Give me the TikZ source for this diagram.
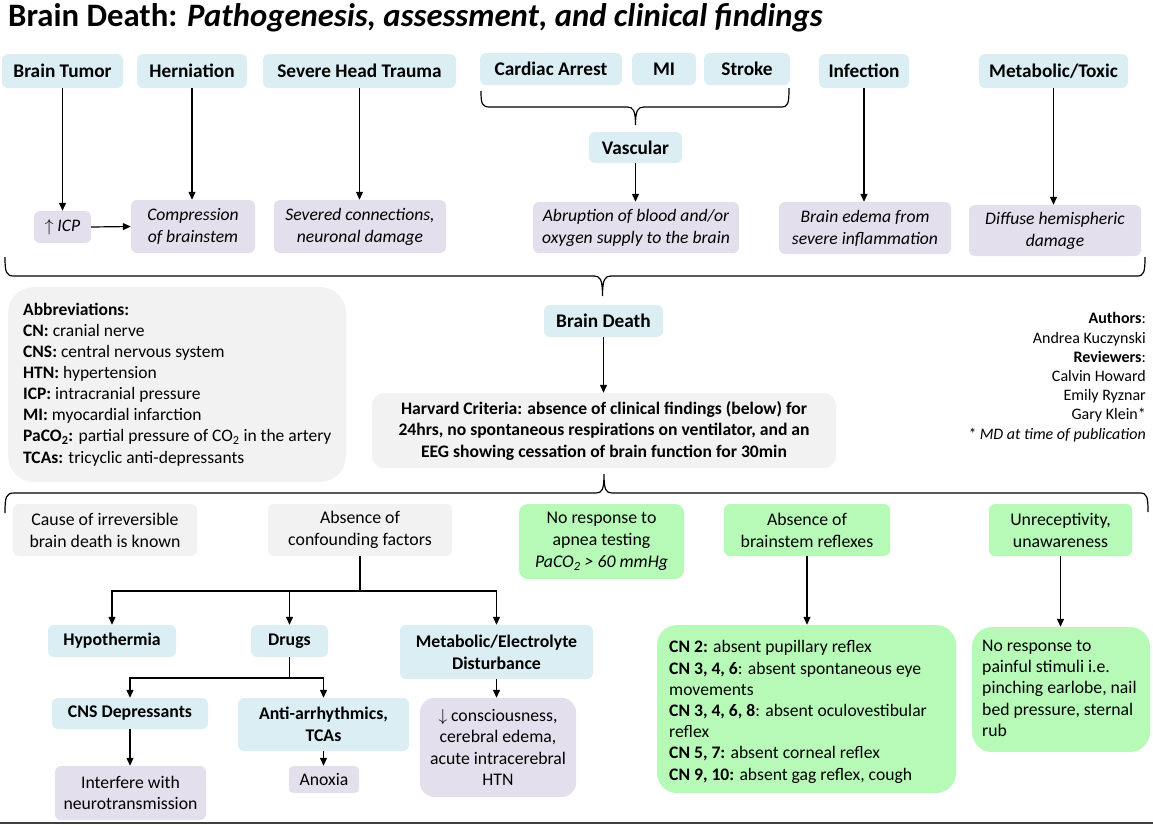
\documentclass[tikz,border=0pt]{standalone}
\usepackage{fontspec}
\setmainfont{Carlito}
\usetikzlibrary{arrows.meta}
\definecolor{bluef}{RGB}{218,238,243}
\definecolor{purf}{RGB}{228,223,236}
\definecolor{grayf}{RGB}{242,242,242}
\definecolor{greenf}{RGB}{183,250,183}
\tikzset{
  box/.style={rounded corners=6pt, inner sep=0pt, align=center, text=black},
  bluebox/.style={box, fill=bluef, font=\fontsize{19.3}{22}\selectfont\bfseries},
  blueboxs/.style={box, fill=bluef, font=\fontsize{17.8}{22}\selectfont\bfseries},
  purbox/.style={box, fill=purf, font=\fontsize{17.6}{22}\selectfont\itshape},
  purboxn/.style={box, fill=purf, font=\fontsize{17.7}{21.5}\selectfont},
  graybox/.style={box, fill=grayf, font=\fontsize{17.8}{22}\selectfont},
  greenbox/.style={box, fill=greenf, font=\fontsize{17.8}{22}\selectfont},
  arr/.style={line width=1.2pt, -{Triangle[width=7pt,length=8pt]}},
  ln/.style={line width=1.2pt},
  brace/.style={line width=1.2pt},
}
\begin{document}
\begin{tikzpicture}[x=1pt,y=-1pt]
\useasboundingbox (0,0) rectangle (1153,825);
% title
\node[anchor=west, inner sep=0pt, font=\fontsize{32.7}{36}\selectfont\bfseries] (title) at (8,18)
  {Brain Death: \textit{Pathogenesis, assessment, and clinical findings}};
% row 1
\node[bluebox, minimum width=121, minimum height=34] (bt) at (62.5,71) {Brain Tumor};
\node[bluebox, minimum width=110, minimum height=34] (hern) at (192,71) {Herniation};
\node[bluebox, minimum width=193, minimum height=34] (sht) at (359.5,71) {Severe Head Trauma};
\node[bluebox, minimum width=142, minimum height=32] (ca) at (551,69) {Cardiac Arrest};
\node[bluebox, minimum width=64, minimum height=32] (mi) at (664,69) {MI};
\node[bluebox, minimum width=86, minimum height=32] (stroke) at (747,69) {Stroke};
\node[bluebox, minimum width=90, minimum height=34] (inf) at (864,71) {Infection};
\node[bluebox, minimum width=149, minimum height=34] (mt) at (1053.5,71) {Metabolic/Toxic};
\node[bluebox, minimum width=93, minimum height=31] (vasc) at (635.5,147.5) {Vascular};
% row 2
\node[purbox, minimum width=57, minimum height=32] (icp) at (62.5,227) {$\uparrow$ ICP};
\node[purbox, minimum width=124, minimum height=53] (comp) at (193,226.5) {Compression\\of brainstem};
\node[purbox, minimum width=172, minimum height=53] (sev) at (360,226.5) {Severed connections,\\neuronal damage};
\node[purbox, minimum width=206, minimum height=51] (abr) at (636,227.5) {Abruption of blood and/or\\oxygen supply to the brain};
\node[purbox, minimum width=172, minimum height=52] (edema) at (865,228) {Brain edema from\\severe inflammation};
\node[purbox, minimum width=172, minimum height=51] (diff) at (1055,230.5) {Diffuse hemispheric\\damage};
% arrows top
\draw[arr] (bt.south) -- (icp.north);
\draw[arr] (hern.south) -- (hern.south |- comp.north);
\draw[arr] (sht.south) -- (sht.south |- sev.north);
\draw[arr] (icp.east) -- (comp.west);
\draw[arr] (vasc.south) -- (vasc.south |- abr.north);
\draw[arr] (inf.south) -- (inf.south |- edema.north);
\draw[arr] (mt.south) -- (mt.south |- diff.north);
% brace A
\draw[brace] (481,91) .. controls (481,104) and (482,107) .. (490,107) -- (627,107)
  .. controls (633,107) and (635.5,110) .. (635.5,125)
  .. controls (635.5,110) and (638,107) .. (644,107) -- (781,107)
  .. controls (788,107) and (789,104) .. (789,88);
% brace B
\draw[brace] (5,257) .. controls (5,272) and (6,276) .. (14,276) -- (594,276)
  .. controls (600,276) and (602.5,279) .. (602.5,296)
  .. controls (602.5,279) and (605,276) .. (611,276) -- (1137,276)
  .. controls (1144,276) and (1145,272) .. (1145,257);
% middle
\node[bluebox, minimum width=119, minimum height=32] (bd) at (603.5,321) {Brain Death};
\node[box, fill=grayf, rounded corners=12pt, minimum width=464, minimum height=75,
  font=\fontsize{17.6}{21.5}\selectfont\bfseries] (harv) at (604,430.5)
  {Harvard Criteria: absence of clinical findings (below) for\\24hrs, no spontaneous respirations on ventilator, and an\\EEG showing cessation of brain function for 30min};
\draw[arr] (bd.south) -- (bd.south |- harv.north);
% abbreviations
\node[box, fill=grayf, rounded corners=26pt, minimum width=338, minimum height=195] (abbrbox) at (177,384.5) {};
\node[anchor=north west, inner sep=0pt, align=left, font=\fontsize{17.5}{21.15}\selectfont] (abbr) at (23,302.5)
  {\textbf{Abbreviations:}\\
   \textbf{CN:} cranial nerve\\
   \textbf{CNS:} central nervous system\\
   \textbf{HTN:} hypertension\\
   \textbf{ICP:} intracranial pressure\\
   \textbf{MI:} myocardial infarction\\
   \textbf{PaCO\textsubscript{2}:} partial pressure of CO\textsubscript{2} in the artery\\
   \textbf{TCAs:} tricyclic anti-depressants};
% authors
\node[anchor=north east, inner sep=0pt, align=right, font=\fontsize{16}{19.2}\selectfont] (auth) at (1146,312.5)
  {\textbf{Authors}:\\Andrea Kuczynski\\\textbf{Reviewers}:\\Calvin Howard\\Emily Ryznar\\Gary Klein*\\\textit{* MD at time of publication}};
% brace C
\draw[brace] (5,513) .. controls (5,497) and (6,493) .. (14,493) -- (596,493)
  .. controls (602,493) and (604,490) .. (604,474)
  .. controls (604,490) and (606,493) .. (612,493) -- (1140,493)
  .. controls (1147,493) and (1148,497) .. (1148,512);
% row 3
\node[graybox, minimum width=184, minimum height=52] (cause) at (105,530) {Cause of irreversible\\brain death is known};
\node[graybox, minimum width=184, minimum height=52] (absc) at (360,530) {Absence of\\confounding factors};
\node[greenbox, rounded corners=9pt, minimum width=165, minimum height=75] (apnea) at (601.5,541.5) {No response to\\apnea testing\\\textit{PaCO\textsubscript{2} > 60 mmHg}};
\node[greenbox, minimum width=166, minimum height=52] (absb) at (807,530) {Absence of\\brainstem reflexes};
\node[greenbox, minimum width=143, minimum height=52] (unrec) at (1060.5,530) {Unreceptivity,\\unawareness};
% row 4
\node[blueboxs, minimum width=128, minimum height=32] (hypo) at (112,641) {Hypothermia};
\node[blueboxs, minimum width=77, minimum height=32] (drugs) at (289.5,641) {Drugs};
\node[blueboxs, minimum width=193, minimum height=54] (metab) at (496.5,652) {Metabolic/Electrolyte\\Disturbance};
\node[blueboxs, minimum width=156, minimum height=31] (cnsd) at (130,713.5) {CNS Depressants};
\node[blueboxs, minimum width=171, minimum height=53] (anti) at (323.5,724.5) {Anti-arrhythmics,\\TCAs};
\node[purboxn, rounded corners=14pt, minimum width=156, minimum height=99] (cons) at (498,747.5) {$\downarrow$ consciousness,\\cerebral edema,\\acute intracerebral\\HTN};
\node[purboxn, minimum width=151, minimum height=54] (interf) at (130.5,793) {Interfere with\\neurotransmission};
\node[purboxn, rounded corners=4pt, minimum width=70, minimum height=27] (anox) at (324,779.5) {Anoxia};
\node[greenbox, rounded corners=20pt, minimum width=299, minimum height=168] (cnbox) at (806.5,709) {};
\node[anchor=north west, inner sep=0pt, align=left, font=\fontsize{17.6}{21.2}\selectfont] (cntext) at (669,640.5)
  {\textbf{CN 2:} absent pupillary reflex\\
   \textbf{CN 3, 4, 6}: absent spontaneous eye\\
   movements\\
   \textbf{CN 3, 4, 6, 8}: absent oculovestibular\\
   reflex\\
   \textbf{CN 5, 7:} absent corneal reflex\\
   \textbf{CN 9, 10:} absent gag reflex, cough};
\node[greenbox, rounded corners=20pt, minimum width=178, minimum height=125] (nrbox) at (1061,689.5) {};
\node[anchor=north west, inner sep=0pt, align=left, font=\fontsize{17.7}{21.2}\selectfont] (nrtext) at (982,640)
  {No response to\\painful stimuli i.e.\\pinching earlobe, nail\\bed pressure, sternal\\rub};
% tree arrows
\coordinate (j1) at (360,591);
\draw[ln] (absc.south) -- (j1);
\draw[arr] (j1) -| (hypo.north);
\draw[arr] (j1) -| (drugs.north);
\draw[arr] (j1) -| (metab.north);
\coordinate (j2) at (289.5,678);
\draw[ln] (drugs.south) -- (j2);
\draw[arr] (j2) -| (cnsd.north);
\draw[arr] (j2) -| (anti.north);
\draw[arr] (cnsd.south) -- (cnsd.south |- interf.north);
\draw[arr] (anti.south) -- (anti.south |- anox.north);
\draw[arr] (metab.south) -- (metab.south |- cons.north);
\draw[arr] (absb.south) -- (absb.south |- cnbox.north);
\draw[arr] (unrec.south) -- (unrec.south |- nrbox.north);
% bottom line
\coordinate (bl) at (0,823);
\coordinate (br) at (1153,823);
\draw[line width=1.2pt, black!75] (bl) -- (br);
\end{tikzpicture}
\end{document}
